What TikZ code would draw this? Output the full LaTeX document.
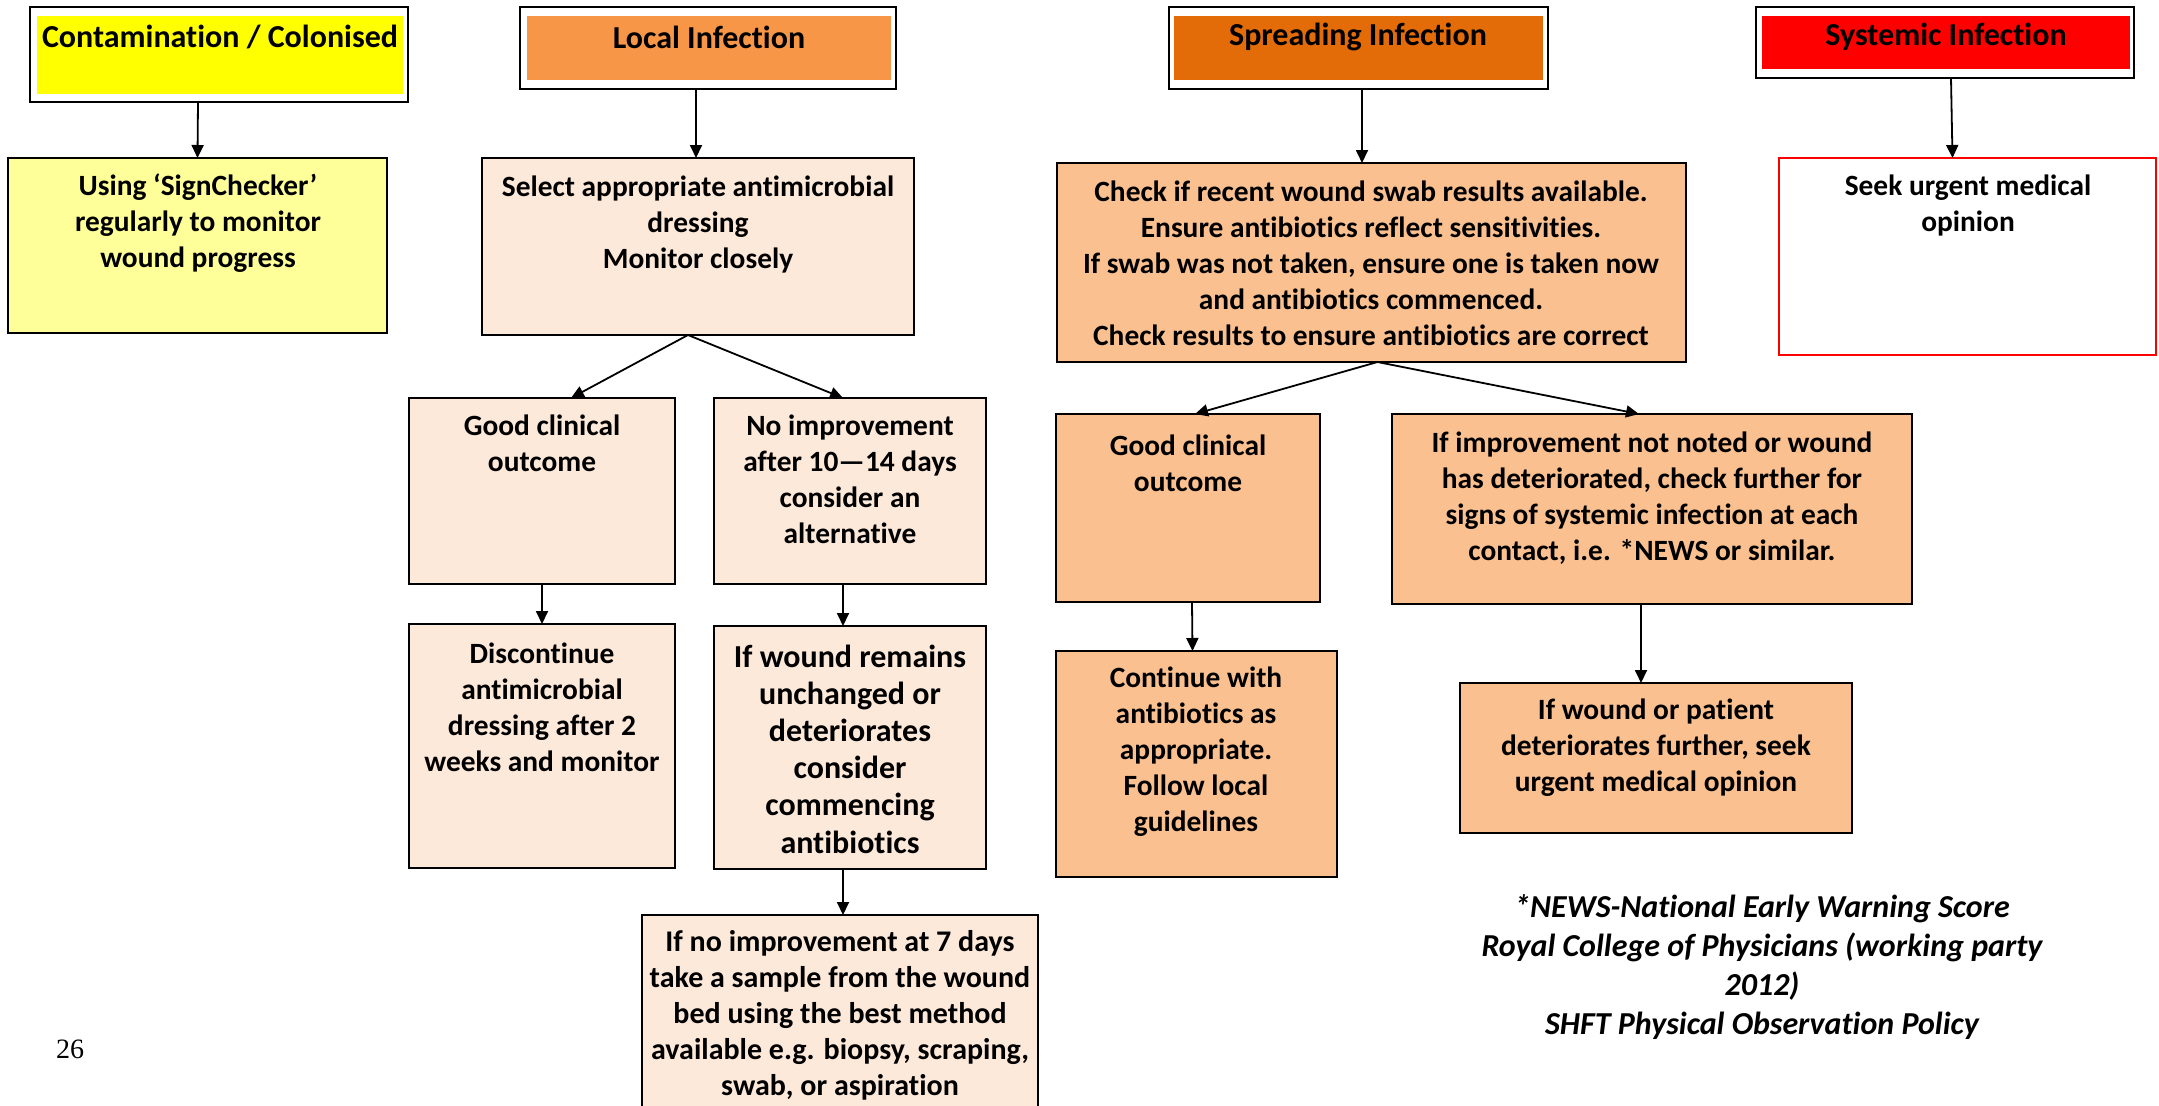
\documentclass[tikz,border=0pt]{standalone}
\usepackage{fontspec}
\setmainfont{Carlito}[Ligatures=NoCommon]
\newfontfamily\numfont{Liberation Serif}
\usetikzlibrary{arrows.meta}
\definecolor{cyel}{HTML}{FFFF00}
\definecolor{cyelb}{HTML}{FFFF99}
\definecolor{corl}{HTML}{F79646}
\definecolor{corlb}{HTML}{FDE9D9}
\definecolor{cors}{HTML}{E36C09}
\definecolor{corsb}{HTML}{FAC090}
\definecolor{cred}{HTML}{FF0000}
\newcommand{\bxat}[6]{\node[#2, minimum width={(#5-#3)*0.5pt}, minimum height={(#6-#4)*0.5pt}] (#1) at ({(#3+#5)/2},{(#4+#6)/2}) {};}
\newcommand{\txat}[4]{\node[txt] (#1) at (#2,#3) {#4};}
\begin{document}
\begin{tikzpicture}[x=0.5pt,y=-0.5pt,
  txt/.style={font=\fontsize{14.7}{18}\selectfont\bfseries, align=center, inner sep=0pt},
  htxt/.style={font=\fontsize{16}{19}\selectfont\bfseries, align=center, inner sep=0pt},
  box/.style={draw, line width=1.3pt, inner sep=0pt, outer sep=0pt},
  hout/.style={draw, line width=1.2pt, fill=white, inner sep=0pt, outer sep=0pt},
  hin/.style={inner sep=0pt, outer sep=0pt},
  arr/.style={line width=0.9pt, -{Triangle[length=6.5pt,width=6pt]}}]
\useasboundingbox (0,0) rectangle (2159,1105);
\fill[white] (0,0) rectangle (2159,1105);

% headers
\bxat{h1o}{hout}{30}{7}{408}{102}
\bxat{h1}{hin, fill=cyel}{37}{16}{403}{94}
\node[htxt] (h1t) at (220,37) {Contamination / Colonised};
\bxat{h2o}{hout}{520}{7}{896}{89}
\bxat{h2}{hin, fill=corl}{527}{16}{891}{80}
\node[htxt] (h2t) at (709,37) {Local Infection};
\bxat{h3o}{hout}{1169}{7}{1548}{89}
\bxat{h3}{hin, fill=cors}{1174}{16}{1543}{80}
\node[htxt] (h3t) at (1358,37) {Spreading Infection};
\bxat{h4o}{hout}{1756}{7}{2134}{78}
\bxat{h4}{hin, fill=cred}{1762}{16}{2130}{69}
\node[htxt] (h4t) at (1946,37) {Systemic Infection};

% contamination column
\bxat{using}{box, fill=cyelb}{8}{158}{387}{333}
\txat{usingt}{198}{223}{Using ‘SignChecker’\\regularly to monitor\\wound progress}

% local column
\bxat{sel}{box, fill=corlb}{482}{158}{914}{335}
\txat{selt}{698}{224}{Select appropriate antimicrobial\\dressing\\Monitor closely}
\bxat{good1}{box, fill=corlb}{409}{398}{675}{584}
\txat{good1t}{542}{443}{Good clinical\\outcome}
\bxat{noimp}{box, fill=corlb}{714}{398}{986}{584}
\txat{noimpt}{850}{479}{No improvement\\after 10—14 days\\consider an\\alternative}
\bxat{disc}{box, fill=corlb}{409}{624}{675}{868}
\txat{disct}{542}{707}{Discontinue\\antimicrobial\\dressing after 2\\weeks and monitor}
\bxat{wound}{box, fill=corlb}{714}{626}{986}{869}
\node[txt, font=\fontsize{16}{18.6}\selectfont\bfseries] (woundt) at (850,749) {If wound remains\\unchanged or\\deteriorates\\consider\\commencing\\antibiotics};
\bxat{seven}{box, fill=corlb}{642}{915}{1038}{1118}
\node[txt, font=\fontsize{15}{18}\selectfont\bfseries] (sevent) at (840,1015) {If no improvement at 7 days\\take a sample from the wound\\bed using the best method\\available e.g. biopsy, scraping,\\swab, or aspiration};

% spreading column
\bxat{check}{box, fill=corsb}{1057}{163}{1686}{362}
\txat{checkt}{1371}{263}{Check if recent wound swab results available.\\Ensure antibiotics reflect sensitivities.\\If swab was not taken, ensure one is taken now\\and antibiotics commenced.\\Check results to ensure antibiotics are correct}
\bxat{good2}{box, fill=corsb}{1056}{414}{1320}{602}
\txat{good2t}{1188}{463}{Good clinical\\outcome}
\bxat{impr}{box, fill=corsb}{1392}{414}{1912}{604}
\txat{imprt}{1652}{498}{If improvement not noted or wound\\has deteriorated, check further for\\signs of systemic infection at each\\contact, i.e. *NEWS or similar.}
\bxat{cont}{box, fill=corsb}{1056}{651}{1337}{877}
\txat{contt}{1196}{752}{Continue with\\antibiotics as\\appropriate.\\Follow local\\guidelines}
\bxat{wp}{box, fill=corsb}{1460}{683}{1852}{833}
\txat{wpt}{1656}{748}{If wound or patient\\deteriorates further, seek\\urgent medical opinion}

% systemic column
\bxat{seek}{box, draw=cred, fill=white}{1779}{158}{2156}{355}
\txat{seekt}{1968}{205}{Seek urgent medical\\opinion}

% notes
\node[txt, font=\fontsize{16}{19.5}\selectfont\bfseries\itshape] (notes) at (1762,967) {*NEWS-National Early Warning Score\\Royal College of Physicians (working party\\2012)\\SHFT Physical Observation Policy};
\node[font=\numfont\fontsize{14}{16}\selectfont, inner sep=0pt] (pg) at (70,1049) {26};

% arrows
\draw[arr] ([xshift=-10.5pt]h1o.south) -- (using.north);
\draw[arr] ([xshift=-6pt]h2o.south) -- ([xshift=-1pt]sel.north);
\draw[arr] ([xshift=-5pt]sel.south) -- ([xshift=14.5pt]good1.north);
\draw[arr] ([xshift=-5pt]sel.south) -- ([xshift=-3.5pt]noimp.north);
\draw[arr] (good1.south) -- (disc.north);
\draw[arr] ([xshift=-3.5pt]noimp.south) -- ([xshift=-3.5pt]wound.north);
\draw[arr] ([xshift=-3.5pt]wound.south) -- ([xshift=1.5pt]seven.north);
\draw[arr] ([xshift=1.75pt]h3o.south) -- ([xshift=-4.75pt]check.north);
\draw[arr] ([xshift=3pt]check.south) -- ([xshift=3.5pt]good2.north);
\draw[arr] ([xshift=3pt]check.south) -- ([xshift=-6.5pt]impr.north);
\draw[arr] ([xshift=2pt]good2.south) -- ([xshift=-2pt]cont.north);
\draw[arr] ([xshift=-5.5pt]impr.south) -- ([xshift=-7.5pt]wp.north);
\draw[arr] ([xshift=3pt]h4o.south) -- ([xshift=-7.5pt]seek.north);
\end{tikzpicture}
\end{document}
